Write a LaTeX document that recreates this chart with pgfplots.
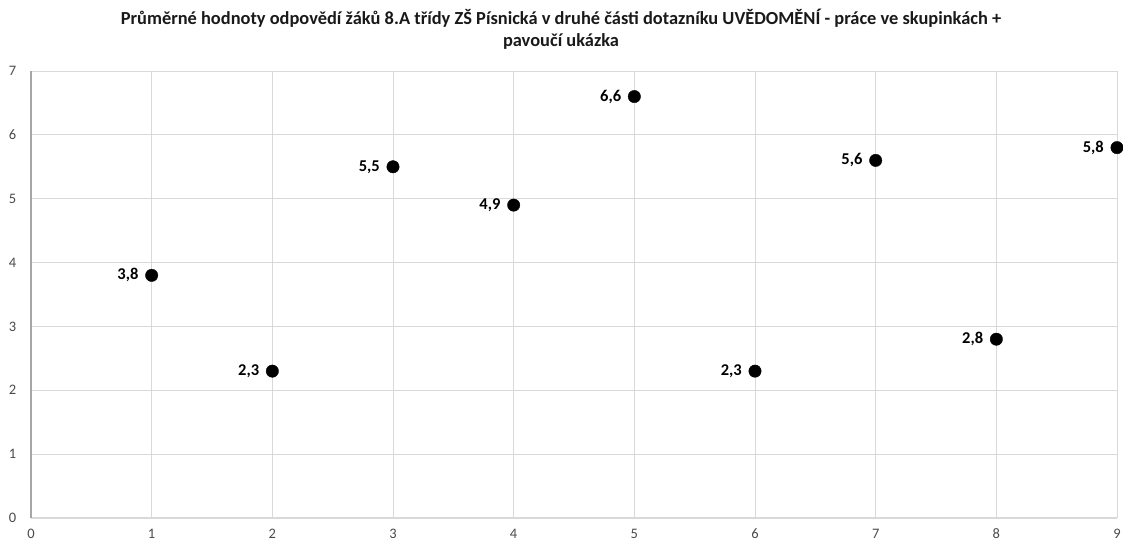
\documentclass[border=0pt]{standalone}
\usepackage{fontspec}
\setmainfont{Carlito}
\usepackage{pgfplots}
\pgfplotsset{compat=1.18}
\definecolor{gridgray}{HTML}{D9D9D9}
\definecolor{axisgray}{HTML}{A6A6A6}
\definecolor{ticktext}{HTML}{4A4A4A}
\begin{document}
\begin{tikzpicture}
\begin{axis}[
  scale only axis,
  width=1086pt, height=447pt,
  at={(0,0)}, anchor=south west,
  xmin=0, xmax=9, ymin=0, ymax=7,
  xtick={0,...,9}, ytick={0,...,7},
  major tick length=0pt,
  grid=major,
  major grid style={draw=gridgray, line width=0.9pt},
  axis line style={draw=none},
  /pgf/number format/assume math mode=true,
  /pgf/number format/use comma,
  ticklabel style={font=\fontsize{14.5}{16}\selectfont, text=ticktext},
  yticklabel style={anchor=center, xshift=-18.5pt},
  xticklabel style={anchor=center, yshift=-16pt},
  clip=false,
  nodes near coords={\pgfmathprintnumber[fixed, fixed zerofill, precision=1]{\pgfplotspointmeta}},
  every node near coord/.append style={anchor=east, inner sep=0pt, xshift=-13pt,
    font=\bfseries\fontsize{16.5}{18}\selectfont, text=black},
  point meta=y,
]
% axis lines: bottom light, left darker
\draw[gridgray, line width=1.2pt] (axis cs:0,0) -- (axis cs:9,0);
\draw[axisgray, line width=1.4pt] (axis cs:0,0) -- (axis cs:0,7);
\addplot[only marks, mark=*, mark size=6.2pt, mark options={fill=black, draw=black}]
  coordinates {(1,3.8) (2,2.3) (3,5.5) (4,4.9) (5,6.6) (6,2.3) (7,5.6) (8,2.8) (9,5.8)};
\end{axis}
\node[align=center, font=\bfseries\fontsize{18.4}{21.5}\selectfont, text=black!90] at (530pt,489pt)
  {Průměrné hodnoty odpovědí žáků 8.A třídy ZŠ Písnická v druhé části dotazníku UVĚDOMĚNÍ - práce ve skupinkách +\\pavoučí ukázka};
\pgfresetboundingbox
\path[use as bounding box] (-31pt,-24pt) rectangle (1092pt,518pt);
\end{tikzpicture}
\end{document}
